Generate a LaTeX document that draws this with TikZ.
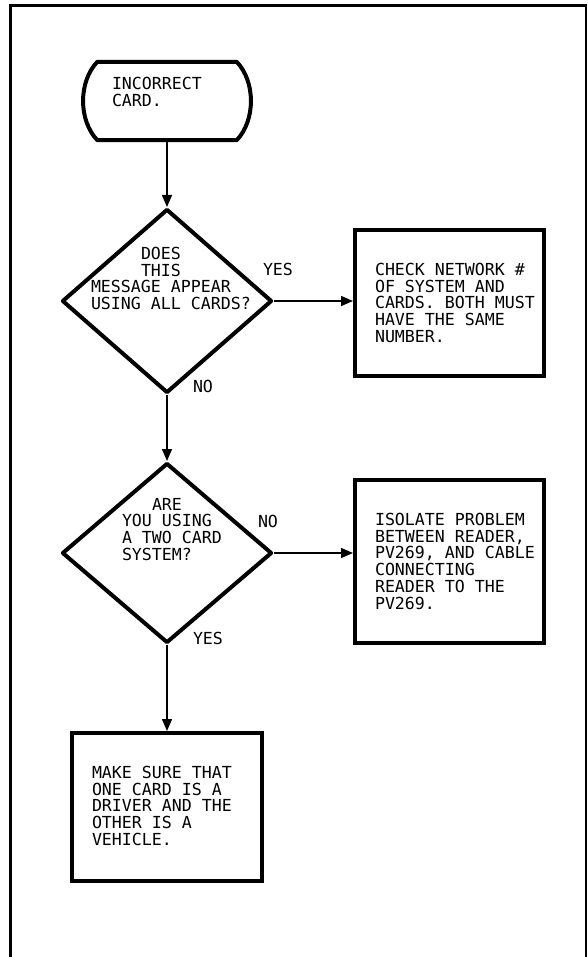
\documentclass[tikz,border=0pt]{standalone}
\usepackage{fontspec}
\newfontfamily\cadfont{DejaVu Sans Mono}
\usetikzlibrary{arrows.meta,shapes.geometric}
\begin{document}
\begin{tikzpicture}[x=1pt,y=-1pt,
  txt/.style={inner sep=0pt, outer sep=0pt, align=left, anchor=north west,
    font=\cadfont\fontsize{16.6}{16.8}\selectfont},
  boxnode/.style={draw, line width=4pt, minimum width=189pt, inner sep=0pt},
  decision/.style={diamond, draw, line width=4pt, line join=round, minimum width=210pt, inner sep=0pt},
  conn/.style={line width=1.5pt, -{Triangle[length=12pt,width=10pt]}},
  frame/.style={line width=2.5pt},
]
\useasboundingbox (0,0) rectangle (587,957);
\draw[frame] (10.5,957) -- (10.5,5.5) -- (586,5.5) -- (586,957);

% terminal
\node[minimum width=139pt, minimum height=78pt, inner sep=0pt] (t) at (167,101) {};
\draw[line width=4pt, line join=round]
  (t.north west) -- (t.north east) .. controls +(19,20) and +(19,-20) .. (t.south east)
  -- (t.south west) .. controls +(-19,-20) and +(-19,20) .. (t.north west) -- cycle;
\node[txt] (tt) at (112,77) {INCORRECT\\CARD.};

% decision 1
\node[decision, minimum height=184pt] (d1) at (167,301) {};
\node[txt] (d1t) at (91,247) {\hspace*{50pt}DOES\\\hspace*{50pt}THIS\\MESSAGE APPEAR\\USING ALL CARDS?};
\node[txt] (yes1) at (263,263) {YES};
\node[txt] (no1) at (193,380) {NO};

% box 1
\node[boxnode, minimum height=146pt] (b1) at (449.5,303) {};
\node[txt] (b1t) at (375,263) {CHECK NETWORK \#\\OF SYSTEM AND\\CARDS. BOTH MUST\\HAVE THE SAME\\NUMBER.};

% decision 2
\node[decision, minimum height=180pt] (d2) at (167,553) {};
\node[txt] (d2t) at (122,498) {\hspace*{30pt}ARE\\YOU USING\\A TWO CARD\\SYSTEM?};
\node[txt] (no2) at (258,515) {NO};
\node[txt] (yes2) at (193,632) {YES};

% box 2
\node[boxnode, minimum height=163pt] (b2) at (449.5,561.5) {};
\node[txt] (b2t) at (375,513) {ISOLATE PROBLEM\\BETWEEN READER,\\PV269, AND CABLE\\CONNECTING\\READER TO THE\\PV269.};

% box 3
\node[boxnode, minimum width=190pt, minimum height=148pt] (b3) at (167,807) {};
\node[txt] (b3t) at (92,766) {MAKE SURE THAT\\ONE CARD IS A\\DRIVER AND THE\\OTHER IS A\\VEHICLE.};

% connectors
\draw[conn] (t.south) -- (d1.north);
\draw[conn] (d1.south) -- (d2.north);
\draw[conn] (d1.east) -- (b1.west |- d1.east);
\draw[conn] (d2.east) -- (b2.west |- d2.east);
\draw[conn] (d2.south) -- (b3.north);
\end{tikzpicture}
\end{document}
